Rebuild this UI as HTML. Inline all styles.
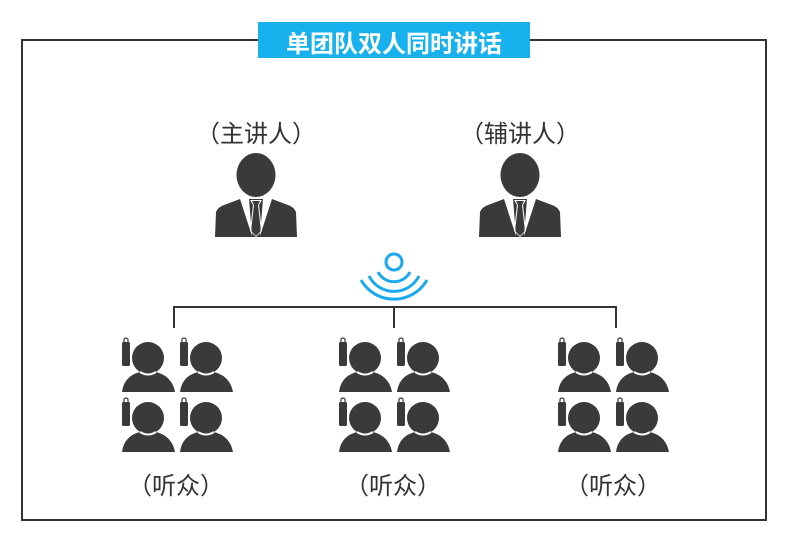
<!DOCTYPE html>
<html><head><meta charset="utf-8"><style>
body{margin:0;width:790px;height:540px;background:#fff;position:relative;font-family:"Liberation Sans","Noto Sans CJK SC",sans-serif;overflow:hidden}
.t{position:absolute;font-size:24px;color:#333;white-space:nowrap}
</style></head><body>
<svg width="790" height="540" style="position:absolute;left:0;top:0">
<defs>
<g id="sp" fill="#3a3a3a">
<ellipse cx="0" cy="0" rx="19.5" ry="22"/>
<path d="M-41 62 L-40 37 Q-38 32 -32 30 L-16 24 L16 24 L32 30 Q38 32 40 37 L41 62 Z"/>
<path d="M-6 25 L6 25 L3 30 L6 56 L0 62 L-6 56 L-3 30 Z" fill="#fff"/>
<path d="M-4 26 L4 26 L2 30 L5 56 L0 61 L-5 56 L-2 30 Z" fill="#3a3a3a"/>
<path d="M-16 24 L-7 24 L-4 61 Z M16 24 L7 24 L4 61 Z" fill="#fff"/>
</g>
<g id="ls" fill="#3a3a3a">
<circle cx="26" cy="16" r="16"/>
<path d="M0 50 Q2 34 18 30 Q26 35 34 30 Q50 34 53 50 Z"/>
<path d="M18 30 Q26 35 34 30" stroke="#fff" stroke-width="2" fill="none"/>
<rect x="0" y="0" width="8" height="24" rx="1.5"/>
<path d="M2 0 L2 -3 Q4 -5 6 -3 L6 0" stroke="#3a3a3a" stroke-width="1.2" fill="none"/>
</g>
<g id="grp">
<use href="#ls" x="0" y="12"/><use href="#ls" x="58" y="12"/>
<use href="#ls" x="0" y="72"/><use href="#ls" x="58" y="72"/>
</g>
</defs>
<rect x="22" y="40" width="744" height="480" fill="none" stroke="#333" stroke-width="2"/>
<rect x="258" y="22" width="272" height="36" fill="#17b1ee"/>
<use href="#sp" x="256" y="175"/>
<use href="#sp" x="520" y="175"/>
<g stroke="#1aa9ee" stroke-width="3" fill="none">
<circle cx="394" cy="262" r="8"/>
<path d="M378 272 A18 18 0 0 0 410 272"/>
<path d="M369 276 A28 28 0 0 0 419 276"/>
<path d="M361 280 A38 38 0 0 0 427 280"/>
</g>
<g stroke="#333" stroke-width="2" fill="none">
<path d="M174 328 L174 307 L616 307 L616 328 M394 307 L394 328"/>
</g>
<use href="#grp" x="122" y="330"/>
<use href="#grp" x="339" y="330"/>
<use href="#grp" x="558" y="330"/>
</svg>
<div class="t" style="left:258px;top:24px;width:272px;text-align:center;color:#fff;font-size:24px;font-weight:bold">单团队双人同时讲话</div>
<div class="t" style="left:196px;top:114px">（主讲人）</div>
<div class="t" style="left:460px;top:114px">（辅讲人）</div>
<div class="t" style="left:128px;top:466px">（听众）</div>
<div class="t" style="left:345px;top:466px">（听众）</div>
<div class="t" style="left:565px;top:466px">（听众）</div>
</body></html>
